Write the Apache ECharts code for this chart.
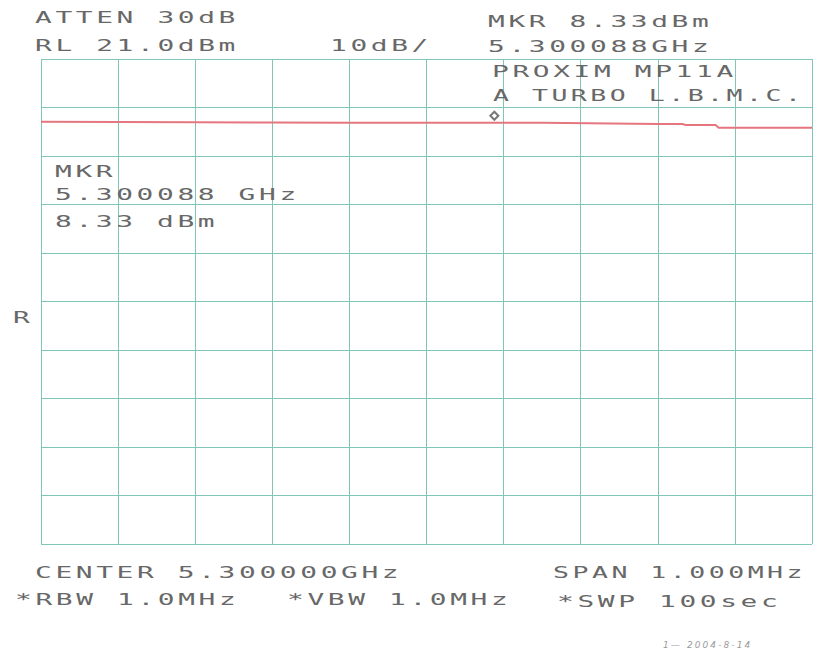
<!DOCTYPE html>
<html>
<head>
<meta charset="utf-8">
<script src="https://cdn.jsdelivr.net/npm/echarts@6/dist/echarts.min.js"></script>
<style>
  html, body { margin: 0; padding: 0; background: #ffffff; }
  #chart { width: 814px; height: 659px; letter-spacing: 2.1px; }
</style>
</head>
<body>
<div id="chart"></div>
<script>
// ---- data ----
const refLevel = 21.0;          // RL dBm (top of screen)
const dbPerDiv = 10;            // 10 dB/div
const spanKHz = 1000;           // SPAN 1.000 MHz, offsets from center in kHz
const freqOffsetKHz = [-500, -400, -300, -200, -100, 0, 88, 150, 210, 300, 332, 336, 375, 379, 500];
const levelDBm      = [8.05, 8.0, 7.95, 7.9, 7.85, 7.85, 7.85, 7.85, 7.75, 7.6, 7.6, 7.4, 7.4, 6.8, 6.8];
const markerOffsetKHz = 88;
const markerDBm = 7.85;

const headerTexts = [
  ['ATTEN 30dB', 35, 17.5],
  ['RL 21.0dBm', 35, 45.5],
  ['10dB/', 330, 45.5],
  ['MKR 8.33dBm', 488, 21],
  ['5.300088GHz', 488, 46],
  ['PROXIM MP11A', 492, 71.5],
  ['A TURBO L.B.M.C.', 493, 96],
  ['MKR', 55, 171.5],
  ['5.300088 GHz', 55, 194],
  ['8.33 dBm', 55, 221],
  ['R', 13, 317],
  ['CENTER 5.300000GHz', 35, 572],
  ['SPAN 1.000MHz', 553, 573],
  ['*RBW 1.0MHz', 15, 599],
  ['*VBW 1.0MHz', 287, 599],
  ['*SWP 100sec', 557, 601]
];
const noteText = '1\u2014 2004-8-14';

// ---- chart ----
const chart = echarts.init(document.getElementById('chart'), null, { renderer: 'svg' });

const traceData = freqOffsetKHz.map((f, i) => [f, levelDBm[i] - refLevel]);
const gridColor = '#80c6b6';
const edgeTexts = ['A TURBO L.B.M.C.', 'SPAN 1.000MHz'];

const graphics = headerTexts.map(([t, x, y]) => ({
  type: 'text', x: x, y: y, scaleX: edgeTexts.includes(t) ? 1.66 : 1.74, scaleY: 1, z: 10,
  style: {
    text: t, x: 0, y: 0,
    fill: '#686868',
    font: '16px "DejaVu Sans Mono", "Liberation Mono", monospace',
    textAlign: 'left', textVerticalAlign: 'middle'
  }
}));
graphics.push({
  type: 'text', x: 663, y: 645, z: 10,
  style: {
    text: noteText, x: 0, y: 0, fill: '#9a9a9a',
    font: 'italic 9px "DejaVu Sans", sans-serif',
    textAlign: 'left', textVerticalAlign: 'middle'
  }
});

chart.setOption({
  animation: false,
  backgroundColor: '#ffffff',
  grid: { left: 41, right: 2, top: 59, bottom: 115, show: false },
  xAxis: {
    type: 'value', min: -spanKHz / 2, max: spanKHz / 2, interval: 100,
    axisLine: { show: false }, axisTick: { show: false }, axisLabel: { show: false },
    splitLine: { show: true, lineStyle: { color: gridColor, width: 1 } }
  },
  yAxis: {
    type: 'value', min: -10 * dbPerDiv, max: 0, interval: dbPerDiv,
    axisLine: { show: false }, axisTick: { show: false }, axisLabel: { show: false },
    splitLine: { show: true, lineStyle: { color: gridColor, width: 1 } }
  },
  series: [
    {
      type: 'line', data: traceData, showSymbol: false, smooth: false,
      lineStyle: { color: '#e5767f', width: 2 }, z: 5
    },
    {
      type: 'scatter', data: [[markerOffsetKHz, markerDBm - refLevel]],
      symbol: 'emptyDiamond', symbolSize: 8, symbolOffset: [0, -7],
      itemStyle: { color: '#555555', borderColor: '#555555', borderWidth: 1.5 }, z: 6
    }
  ],
  graphic: graphics
});
</script>
</body>
</html>
